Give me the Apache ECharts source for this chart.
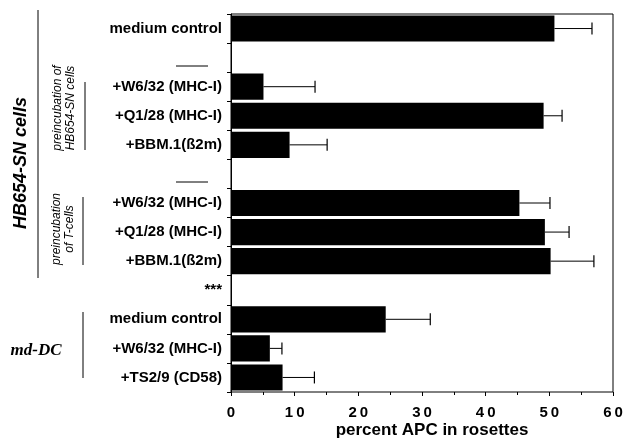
<!DOCTYPE html>
<html>
<head>
<meta charset="utf-8">
<script src="https://cdn.jsdelivr.net/npm/echarts@6/dist/echarts.min.js"></script>
<style>
  html, body { margin: 0; padding: 0; background: #fff; }
  #chart { width: 624px; height: 439px; }
</style>
</head>
<body>
<div id="chart"></div>
<script>
// rows top to bottom, '' = spacer row
const categories = ['medium control', '', '+W6/32 (MHC-I)', '+Q1/28 (MHC-I)', '+BBM.1(\u00DF2m)', '',
  '+W6/32 (MHC-I)', '+Q1/28 (MHC-I)', '+BBM.1(\u00DF2m)', '***',
  'medium control', '+W6/32 (MHC-I)', '+TS2/9 (CD58)']
const values = [50.8, null, 5.1, 49.1, 9.2, null, 45.3, 49.3, 50.2, null, 24.3, 6.1, 8.1]
const errTop = [56.7, null, 13.2, 52.0, 15.1, null, 50.1, 53.1, 57.0, null, 31.3, 8.0, 13.1]
const xTicks = [0, 10, 20, 30, 40, 50, 60]

const font = '"Liberation Sans", Arial, sans-serif'
const chart = echarts.init(document.getElementById('chart'))

// keep the category index so the custom series can find its row
const errData = categories.map((c, i) => [i, values[i], errTop[i]]).filter(d => d[1] != null)

const vLine = (x, y1, y2) => ({type: 'line', shape: {x1: x, y1: y1, x2: x, y2: y2}, style: {stroke: '#000', lineWidth: 1}})
const hLine = (x1, x2, y) => ({type: 'line', shape: {x1: x1, y1: y, x2: x2, y2: y}, style: {stroke: '#000', lineWidth: 1}})

chart.setOption({
  animation: false,
  backgroundColor: '#fff',
  grid: {left: 231, right: 11, top: 14, bottom: 47, show: true, borderColor: '#000', borderWidth: 1,
    containLabel: false, outerBoundsMode: 'none'},
  xAxis: {
    type: 'value', min: xTicks[0], max: xTicks[xTicks.length - 1], interval: 10,
    name: 'percent APC in rosettes', nameLocation: 'middle', nameGap: 30, nameMoveOverlap: false,
    nameTextStyle: {fontFamily: font, fontWeight: 'bold', fontSize: 17, color: '#000', padding: [0, 0, 0, 20]},
    axisLine: {lineStyle: {color: '#000'}},
    axisTick: {show: true, length: 4, lineStyle: {color: '#000'}},
    minorTick: {show: true, splitNumber: 2, length: 3, lineStyle: {color: '#000'}},
    splitLine: {show: false},
    axisLabel: {
      fontFamily: font, fontWeight: 'bold', fontSize: 15, color: '#000', margin: 13,
      formatter: v => String(v).split('').join('\u2009')
    }
  },
  yAxis: {
    type: 'category', data: categories, inverse: true,
    axisLine: {lineStyle: {color: '#000'}},
    axisTick: {show: true, length: 4, lineStyle: {color: '#000'}},
    axisLabel: {fontFamily: font, fontWeight: 'bold', fontSize: 15, color: '#000', margin: 9}
  },
  series: [
    {
      type: 'bar', data: values, barCategoryGap: '10%',
      itemStyle: {color: '#000'}
    },
    {
      type: 'custom', data: errData,
      encode: {x: [1, 2], y: 0},
      renderItem: (params, api) => {
        const a = api.coord([api.value(1), api.value(0)])
        const b = api.coord([api.value(2), api.value(0)])
        const h = 6
        return {
          type: 'group',
          children: [
            {type: 'line', shape: {x1: a[0], y1: a[1], x2: b[0], y2: b[1]}, style: {stroke: '#000', lineWidth: 1}},
            {type: 'line', shape: {x1: b[0], y1: b[1] - h, x2: b[0], y2: b[1] + h}, style: {stroke: '#000', lineWidth: 1.2}}
          ]
        }
      },
      z: 3
    }
  ],
  graphic: [
    vLine(38, 10, 278),
    vLine(85, 82, 150),
    vLine(83, 197, 265),
    vLine(83, 312, 378),
    hLine(176, 208, 66),
    hLine(176, 208, 182),
    {
      type: 'text', x: 21, y: 163, rotation: Math.PI / 2,
      style: {text: 'HB654-SN cells', font: 'italic bold 18px ' + font, fill: '#000', align: 'center', verticalAlign: 'middle'}
    },
    {
      type: 'text', x: 64, y: 108, rotation: Math.PI / 2,
      style: {text: 'preincubation of\nHB654-SN cells', font: 'italic 12px ' + font, lineHeight: 13, fill: '#000', align: 'center', verticalAlign: 'middle'}
    },
    {
      type: 'text', x: 63, y: 229, rotation: Math.PI / 2,
      style: {text: 'preincubation\nof T-cells', font: 'italic 12px ' + font, lineHeight: 13, fill: '#000', align: 'center', verticalAlign: 'middle'}
    },
    {
      type: 'text', x: 36, y: 351,
      style: {text: 'md-DC', font: 'italic bold 17px "Liberation Serif", "Times New Roman", serif', fill: '#000', align: 'center', verticalAlign: 'middle'}
    }
  ]
})
</script>
</body>
</html>
